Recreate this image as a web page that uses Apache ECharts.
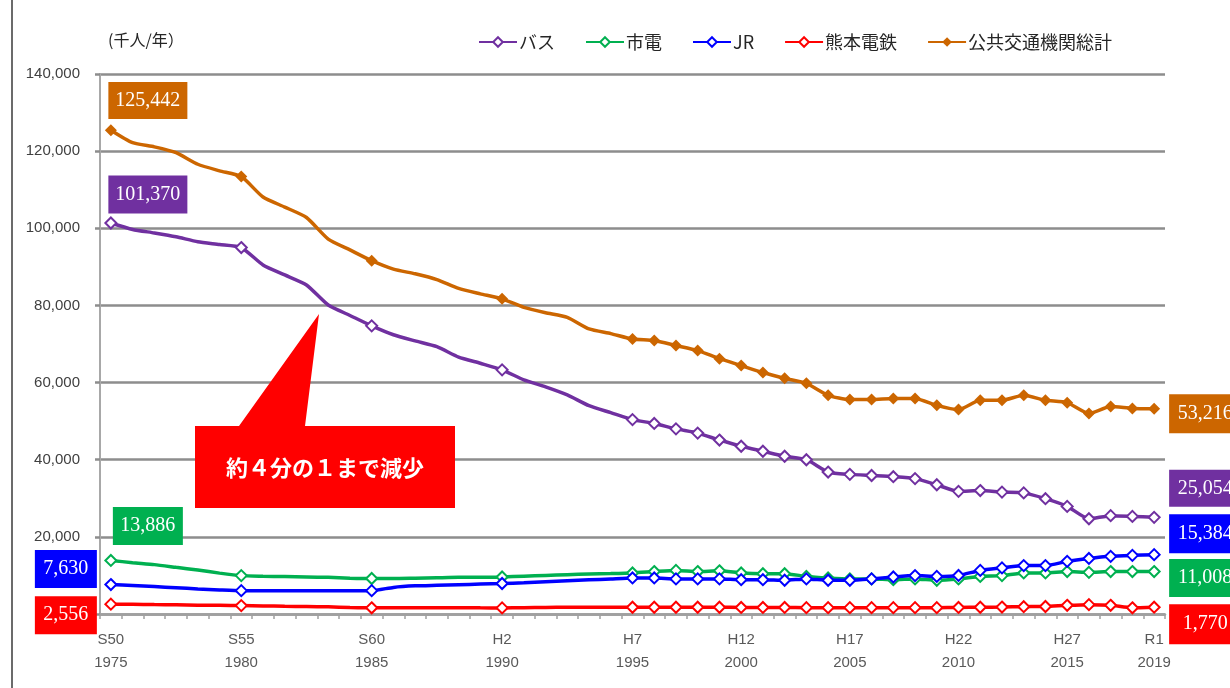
<!DOCTYPE html>
<html>
<head>
<meta charset="utf-8">
<script src="https://cdn.jsdelivr.net/npm/echarts@6/dist/echarts.min.js"></script>
<style>
  html, body { margin: 0; padding: 0; background: #ffffff; }
  #chart { width: 1230px; height: 688px; }
</style>
</head>
<body>
<div id="chart"></div>
<script>
// 熊本市 公共交通機関 年間利用者数（千人/年）
const seriesNames = ['バス', '市電', 'JR', '熊本電鉄', '公共交通機関総計'];

// x-axis slots (49) and the slots that carry a tick label
const tickSlots = [0, 6, 12, 18, 24, 29, 34, 39, 44, 48];
const tickEras  = ['S50', 'S55', 'S60', 'H2', 'H7', 'H12', 'H17', 'H22', 'H27', 'R1'];
const tickYears = ['1975', '1980', '1985', '1990', '1995', '2000', '2005', '2010', '2015', '2019'];
// slots that show a marker
const markerSlots = [0, 6, 12, 18, 24, 25, 26, 27, 28, 29, 30, 31, 32, 33, 34, 35, 36, 37, 38, 39,
                     40, 41, 42, 43, 44, 45, 46, 47, 48];

const busValues = [101370, 99700, 98800, 97800, 96500, 95800, 95000, 90500, 87900, 85300,
  80100, 77400, 74700, 72400, 70800, 69300, 66600, 65000, 63300, 60700,
  58900, 56800, 54000, 52200, 50400, 49400, 48000, 46900, 45100, 43500,
  42200, 40900, 40000, 36800, 36200, 35900, 35600, 35100, 33500, 31800,
  32000, 31600, 31400, 29900, 27900, 24700, 25500, 25300, 25054];

const tramValues = [13886, 13300, 12800, 12100, 11400, 10600, 9950, 9800, 9700, 9600,
  9500, 9300, 9200, 9200, 9300, 9400, 9500, 9500, 9600, 9800,
  10000, 10200, 10400, 10500, 10650, 11000, 11300, 11000, 11200, 10650,
  10450, 10450, 9750, 9350, 9100, 9100, 8900, 9100, 8750, 9100,
  9750, 9950, 10650, 10650, 11000, 10800, 11000, 11000, 11008];

const jrValues = [7630, 7400, 7100, 6800, 6500, 6250, 6060, 6060, 6060, 6060,
  6060, 6060, 6060, 6900, 7300, 7450, 7600, 7750, 7900, 8100,
  8350, 8600, 8850, 9100, 9350, 9350, 9100, 9100, 9100, 8900,
  8900, 8750, 9100, 8750, 8750, 9100, 9600, 9950, 9750, 10000,
  11300, 11950, 12550, 12550, 13650, 14400, 14950, 15200, 15384];

const dentetsuValues = [2556, 2500, 2450, 2400, 2300, 2250, 2180, 2100, 2000, 1950,
  1850, 1700, 1600, 1600, 1600, 1600, 1650, 1600, 1580, 1650,
  1700, 1750, 1750, 1750, 1740, 1750, 1750, 1750, 1750, 1700,
  1700, 1700, 1650, 1650, 1650, 1650, 1650, 1650, 1650, 1700,
  1750, 1800, 1900, 1950, 2250, 2430, 2250, 1600, 1770];

const totalValues = [125442, 122200, 121100, 119600, 116600, 114900, 113400, 108100, 105500, 102800,
  97200, 94400, 91600, 89400, 88200, 86700, 84400, 83000, 81700, 79500,
  78100, 76900, 73900, 72700, 71300, 70900, 69600, 68300, 66200, 64400,
  62600, 61100, 59800, 56700, 55600, 55600, 55900, 55900, 54100, 53000,
  55400, 55400, 56700, 55400, 54800, 52000, 53800, 53300, 53216];

const yTicks = [0, 20000, 40000, 60000, 80000, 100000, 120000, 140000];

// ---- styling ----
const colors = ['#7030A0', '#00B050', '#0000FF', '#FF0000', '#CC6600'];
const symbols = ['emptyDiamond', 'emptyDiamond', 'emptyDiamond', 'emptyDiamond', 'diamond'];
const symbolSizes = [11, 11, 11, 11, 12];

// value boxes at the first and last points: [offsetX, offsetY, width, height]
const boxLayout = [
  { first: [37, -28.5, 79, 38], last: [51, -29, 72, 37] },
  { first: [37, -34.5, 70, 38], last: [51, 6.5, 72, 38] },
  { first: [-45, -15.6, 62, 38], last: [51, -21, 72, 39] },
  { first: [-45, 11, 62, 38], last: [51, 17, 72, 40] },
  { first: [37, -29.7, 79, 37], last: [51, 5, 72, 39] }
];

const slotCount = busValues.length;
const categories = Array.from({ length: slotCount }, (_, i) => String(i));
const allValues = [busValues, tramValues, jrValues, dentetsuValues, totalValues];

const fmt = v => v.toLocaleString('en-US');

function valueBox(color, cfg) {
  return {
    show: true,
    position: 'inside',
    offset: [cfg[0], cfg[1]],
    width: cfg[2],
    height: cfg[3],
    lineHeight: cfg[3],
    align: 'center',
    verticalAlign: 'middle',
    backgroundColor: color,
    color: '#ffffff',
    fontFamily: 'Liberation Serif',
    fontSize: 20,
    formatter: p => fmt(p.value)
  };
}

function buildData(values, s) {
  return values.map((v, i) => {
    const item = { value: v };
    if (!markerSlots.includes(i)) item.symbol = 'none';
    if (i === 0) item.label = valueBox(colors[s], boxLayout[s].first);
    if (i === values.length - 1) item.label = valueBox(colors[s], boxLayout[s].last);
    return item;
  });
}

const series = seriesNames.map((name, s) => ({
  name,
  type: 'line',
  data: buildData(allValues[s], s),
  symbol: symbols[s],
  symbolSize: symbolSizes[s],
  showAllSymbol: true,
  smooth: 0.2,
  color: colors[s],
  lineStyle: { color: colors[s], width: 3.5 },
  itemStyle: { color: colors[s], borderWidth: 2 },
  label: { show: false },
  emphasis: { disabled: true },
  animation: false,
  z: 2 + s
}));

const chart = echarts.init(document.getElementById('chart'), null, { renderer: 'canvas' });

chart.setOption({
  animation: false,
  backgroundColor: '#ffffff',
  grid: { left: 100, right: 65, top: 74, bottom: 74, containLabel: false },
  legend: {
    data: seriesNames,
    left: 473,
    top: 28,
    itemWidth: 38,
    itemHeight: 12,
    itemGap: 30,
    textStyle: { fontFamily: 'Noto Sans CJK JP', fontSize: 18, color: '#262626', padding: [0, 0, 0, -3] }
  },
  xAxis: {
    type: 'category',
    data: categories,
    boundaryGap: true,
    axisLine: { lineStyle: { color: '#a0a0a0', width: 2.5 } },
    axisTick: { show: true, interval: 0, length: 5, lineStyle: { color: '#a0a0a0', width: 1.5 } },
    axisLabel: {
      interval: 0,
      margin: 14,
      fontFamily: 'Liberation Sans',
      fontSize: 15,
      lineHeight: 23,
      color: '#595959',
      formatter: (val, idx) => {
        const k = tickSlots.indexOf(idx);
        return k >= 0 ? tickEras[k] + '\n' + tickYears[k] : '';
      }
    },
    splitLine: { show: false }
  },
  yAxis: {
    type: 'value',
    min: yTicks[0],
    max: yTicks[yTicks.length - 1],
    interval: yTicks[1] - yTicks[0],
    axisLine: { show: true, lineStyle: { color: '#a8a8a8', width: 2 } },
    axisTick: { show: true, length: 5, lineStyle: { color: '#8d8d8d', width: 2.5 } },
    axisLabel: {
      margin: 20,
      fontFamily: 'Liberation Sans',
      fontSize: 15,
      color: '#404040',
      formatter: v => (v === 0 ? '' : fmt(v))
    },
    splitLine: { show: true, lineStyle: { color: '#8d8d8d', width: 2.5 } }
  },
  series,
  graphic: [
    // frame edge on the left
    { type: 'line', shape: { x1: 12, y1: 0, x2: 12, y2: 688 }, style: { stroke: '#6b6b6b', lineWidth: 2 }, z: 1 },
    // unit caption
    { type: 'text', left: 108, top: 32,
      style: { text: '(千人/年）', font: '16px "Noto Sans CJK JP"', fill: '#262626' } },
    // callout
    { type: 'polygon', z: 50,
      shape: { points: [[195, 426], [239, 426], [319, 314], [305, 426], [455, 426], [455, 508], [195, 508]] },
      style: { fill: '#FF0000' } },
    { type: 'text', z: 51, x: 325, y: 468,
      style: { text: '約４分の１まで減少', font: 'bold 22px "Noto Sans CJK JP"', fill: '#ffffff',
               align: 'center', verticalAlign: 'middle' } }
  ]
});
</script>
</body>
</html>
